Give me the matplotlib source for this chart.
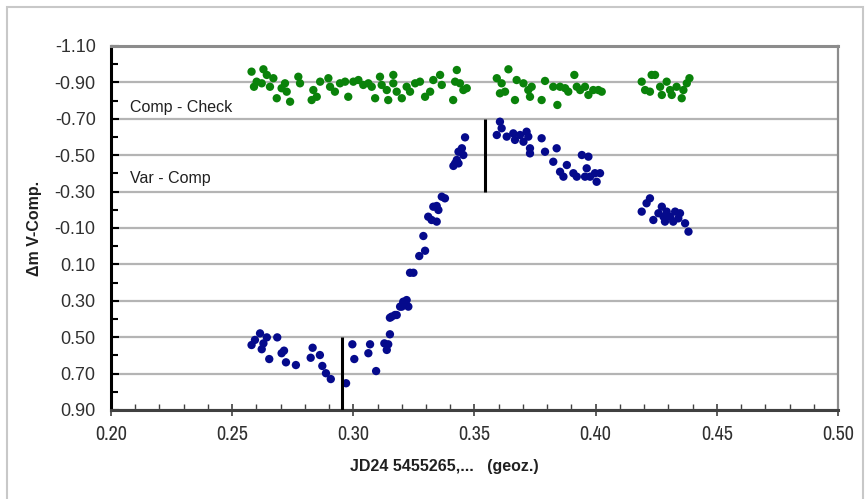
import matplotlib
matplotlib.use("Agg")
import matplotlib.pyplot as plt
from matplotlib.ticker import FixedLocator, MultipleLocator, FormatStrFormatter
from matplotlib.patches import Rectangle

plt.rcParams['font.family'] = ['Liberation Sans', 'DejaVu Sans']

# Comp - Check differential magnitudes
check_jd = [0.258, 0.2601, 0.259, 0.2629, 0.2643, 0.2622, 0.2656, 0.267, 0.2684, 0.2704,
            0.2725, 0.2739, 0.2718, 0.2773, 0.278, 0.2828, 0.2835, 0.2849, 0.2863, 0.2897,
            0.2904, 0.2924, 0.2945, 0.2966, 0.2979, 0.3, 0.3021, 0.3041, 0.3062, 0.3076,
            0.309, 0.311, 0.3117, 0.3138, 0.3144, 0.3165, 0.3165, 0.3179, 0.32, 0.322,
            0.3234, 0.3255, 0.3275, 0.3296, 0.3317, 0.333, 0.3358, 0.3365, 0.3412, 0.342,
            0.3427, 0.344, 0.3454, 0.3468,
            0.3592, 0.3612, 0.364, 0.3626, 0.3605, 0.3667, 0.3674, 0.3702, 0.3722, 0.3729,
            0.3736, 0.3777, 0.3791, 0.3825, 0.3842, 0.3853, 0.3874, 0.3887, 0.3912, 0.3922,
            0.3936, 0.3956, 0.397, 0.399, 0.4011, 0.4025,
            0.419, 0.4204, 0.4231, 0.4245, 0.4224, 0.4266, 0.4273, 0.4293, 0.4307, 0.4314,
            0.4334, 0.4355, 0.4362, 0.4376, 0.4387]
check_mag = [-0.959, -0.904, -0.876, -0.972, -0.941, -0.895, -0.876, -0.923, -0.813, -0.868,
             -0.849, -0.794, -0.895, -0.931, -0.895, -0.803, -0.858, -0.821, -0.904, -0.923,
             -0.876, -0.849, -0.895, -0.904, -0.821, -0.904, -0.913, -0.886, -0.895, -0.876,
             -0.813, -0.931, -0.886, -0.858, -0.803, -0.941, -0.895, -0.849, -0.813, -0.876,
             -0.849, -0.895, -0.904, -0.821, -0.849, -0.913, -0.941, -0.886, -0.803, -0.904,
             -0.968, -0.895, -0.858, -0.868,
             -0.923, -0.895, -0.972, -0.849, -0.840, -0.803, -0.913, -0.895, -0.858, -0.821,
             -0.876, -0.803, -0.908, -0.876, -0.776, -0.876, -0.868, -0.849, -0.941, -0.876,
             -0.858, -0.876, -0.831, -0.858, -0.858, -0.849,
             -0.904, -0.858, -0.941, -0.941, -0.849, -0.876, -0.831, -0.904, -0.858, -0.831,
             -0.876, -0.813, -0.858, -0.895, -0.923]

# Var - Comp differential magnitudes
var_jd = [0.258, 0.2594, 0.2615, 0.2629, 0.2622, 0.2643, 0.2653, 0.2686, 0.2704, 0.2714,
          0.2722, 0.2763, 0.2824, 0.2832, 0.2862, 0.2872, 0.2887, 0.2907, 0.297, 0.2996,
          0.3004, 0.3062, 0.3069, 0.3094, 0.3128, 0.3138, 0.3144, 0.3151,
          0.3151, 0.3158, 0.3172, 0.3179, 0.3193, 0.32, 0.3206, 0.3206, 0.322, 0.3227,
          0.3234, 0.3248, 0.3272, 0.3296, 0.3289, 0.3309, 0.3323, 0.3344, 0.333, 0.3344,
          0.3351, 0.3365, 0.3378, 0.3413, 0.342, 0.3427, 0.3434, 0.3454, 0.3434, 0.3448,
          0.3461,
          0.3605, 0.3612, 0.3592, 0.3633, 0.366, 0.3667, 0.3688, 0.3702, 0.3715, 0.3722,
          0.3729, 0.3729, 0.3777, 0.3791, 0.3839, 0.3825, 0.3853, 0.3881, 0.3867, 0.3908,
          0.3922, 0.3943, 0.397, 0.3963, 0.3956, 0.3977, 0.3997, 0.4018, 0.4004,
          0.4224, 0.421, 0.419, 0.4273, 0.4293, 0.4259, 0.4238, 0.4286, 0.4307, 0.4328,
          0.4348, 0.4341, 0.432, 0.4369, 0.4383, 0.428]
var_mag = [0.543, 0.515, 0.479, 0.534, 0.566, 0.501, 0.620, 0.501, 0.588, 0.574,
           0.638, 0.653, 0.613, 0.558, 0.598, 0.658, 0.698, 0.730, 0.753, 0.539,
           0.620, 0.588, 0.539, 0.686, 0.534, 0.570, 0.539, 0.484,
           0.393, 0.387, 0.378, 0.378, 0.332, 0.332, 0.314, 0.305, 0.296, 0.332,
           0.146, 0.146, 0.054, 0.025, -0.056, -0.162, -0.144, -0.135, -0.217, -0.221,
           -0.199, -0.272, -0.263, -0.441, -0.455, -0.474, -0.455, -0.501, -0.519, -0.538,
           -0.598,
           -0.684, -0.648, -0.611, -0.602, -0.620, -0.584, -0.611, -0.574, -0.629, -0.602,
           -0.538, -0.510, -0.593, -0.519, -0.538, -0.464, -0.409, -0.446, -0.382, -0.401,
           -0.382, -0.501, -0.492, -0.428, -0.382, -0.382, -0.401, -0.401, -0.354,
           -0.263, -0.236, -0.190, -0.217, -0.190, -0.181, -0.144, -0.135, -0.162, -0.190,
           -0.181, -0.153, -0.135, -0.126, -0.080, -0.162]

# Axis ticks
y_major = [-1.10, -0.90, -0.70, -0.50, -0.30, -0.10, 0.10, 0.30, 0.50, 0.70, 0.90]
y_minor = [-1.00, -0.80, -0.60, -0.40, -0.20, 0.00, 0.20, 0.40, 0.60, 0.80]
x_major = [0.20, 0.25, 0.30, 0.35, 0.40, 0.45, 0.50]

# Minimum-time markers: position and vertical extent
minima_jd = [0.2955, 0.3545]
minima_top = [0.50, -0.70]
minima_bottom = [0.90, -0.30]

fig = plt.figure(figsize=(8.66, 4.99), dpi=100)
fig.patch.set_facecolor('white')
fig.patches.append(Rectangle((7 / 866, -0.05), 856 / 866, 1.05 - 7 / 499,
                             transform=fig.transFigure, fill=False,
                             edgecolor='#c8c8c8', linewidth=1.5))

ax = fig.add_axes([111 / 866, 1 - 410 / 499, 727 / 866, 364 / 499])
ax.set_xlim(0.20, 0.50)
ax.set_ylim(0.90, -1.10)

ax.yaxis.set_major_locator(FixedLocator(y_major))
ax.yaxis.set_minor_locator(FixedLocator(y_minor))
ax.xaxis.set_major_locator(FixedLocator(x_major))
ax.xaxis.set_minor_locator(MultipleLocator(0.01))
ax.yaxis.set_major_formatter(FormatStrFormatter('%.2f'))
ax.xaxis.set_major_formatter(FormatStrFormatter('%.2f'))

ax.grid(axis='y', which='major', color='#b4b4b4', linewidth=1.6)
ax.set_axisbelow(True)

ax.spines['left'].set_color('black')
ax.spines['left'].set_linewidth(2.2)
ax.spines['bottom'].set_color('#404040')
ax.spines['bottom'].set_linewidth(2.2)
ax.spines['top'].set_color('#8c8c8c')
ax.spines['top'].set_linewidth(2.2)
ax.spines['right'].set_color('#8c8c8c')
ax.spines['right'].set_linewidth(1.6)

ax.tick_params(axis='y', which='major', direction='in', length=6, width=1.5,
               labelsize=13, pad=11, colors='black', labelcolor='#303030')
ax.tick_params(axis='y', which='minor', direction='in', length=5, width=1.5, colors='black')
ax.tick_params(axis='x', which='major', direction='inout', length=8, width=1.2,
               pad=7, colors='#404040', labelcolor='#303030', labelsize=14.5,
               labelfontfamily=['Archivo Narrow', 'Liberation Sans'])
ax.tick_params(axis='x', which='minor', direction='in', length=4, width=1.0, colors='#404040')

ax.scatter(check_jd, check_mag, s=36, color='#0a820a', edgecolors='none', zorder=3)
ax.scatter(var_jd, var_mag, s=36, color='#050a8c', edgecolors='none', zorder=3)
ax.vlines(minima_jd, minima_top, minima_bottom, colors='black', linewidth=2.2, zorder=4)

ax.text(0.0265, 0.83, 'Comp - Check', transform=ax.transAxes, fontsize=11.5,
        color='#202020', va='center', ha='left')
ax.text(0.0265, 0.635, 'Var - Comp', transform=ax.transAxes, fontsize=11.5,
        color='#202020', va='center', ha='left')

fig.text(34 / 866, 1 - 228 / 499, '\u0394m V-Comp.', rotation=90, fontsize=11.5,
         fontweight='bold', ha='center', va='center', color='#202020')
fig.text(444 / 866, 1 - 467 / 499, 'JD24 5455265,...   (geoz.)', fontsize=11.5,
         fontweight='bold', ha='center', va='center', color='#202020')

fig.savefig('out.png', dpi=100, facecolor='white')
